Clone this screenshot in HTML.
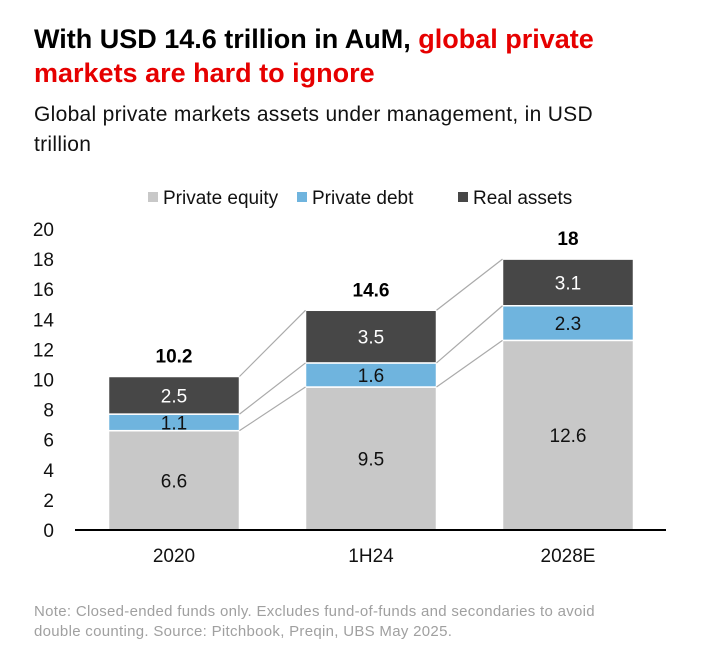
<!DOCTYPE html>
<html><head><meta charset="utf-8"><style>
body{margin:0;width:706px;height:660px;background:#fff;font-family:"Liberation Sans",sans-serif;overflow:hidden}
.t{position:absolute;left:34px;top:22px;width:650px;font-size:27px;font-weight:bold;line-height:34px;color:#000}
.t span{color:#e60000}
.s{position:absolute;left:34px;top:100px;width:600px;font-size:21px;line-height:30px;color:#111;letter-spacing:0.3px}
.n{position:absolute;left:34px;top:602px;width:600px;font-size:15px;line-height:20px;color:#a0a0a0;letter-spacing:0.3px}
svg{position:absolute;left:0;top:0}
</style></head><body>
<div class="t">With USD 14.6 trillion in AuM, <span>global private markets are hard to ignore</span></div>
<div class="s">Global private markets assets under management, in USD trillion</div>
<div class="n">Note: Closed-ended funds only. Excludes fund-of-funds and secondaries to avoid double counting. Source: Pitchbook, Preqin, UBS May 2025.</div>
<svg id="c" width="706" height="660"></svg>
<script>
const categories=["2020","1H24","2028E"];
const privateEquity=[6.6,9.5,12.6];
const privateDebt=[1.1,1.6,2.3];
const realAssets=[2.5,3.5,3.1];
const totals=["10.2","14.6","18"];
const yTicks=[0,2,4,6,8,10,12,14,16,18,20];
const seriesNames=["Private equity","Private debt","Real assets"];
const colors=["#c8c8c8","#6fb4de","#474747"];
const textColors=["#111","#111","#fff"];
const NS="http://www.w3.org/2000/svg";
const svg=document.getElementById('c');
const y=v=>530-v*15.05;
const bw=131;
const x=i=>174+i*197-bw/2;
function mk(t,a,p){const e=document.createElementNS(NS,t);for(const k in a)e.setAttribute(k,a[k]);(p||svg).appendChild(e);return e;}
yTicks.forEach(v=>{const e=mk('text',{x:54,y:y(v)+7,'text-anchor':'end','font-size':19,fill:'#111'});e.textContent=v;

});
const series=[privateEquity,privateDebt,realAssets];
const tops=categories.map(()=>[]);
categories.forEach((c,i)=>{let b=0;series.forEach((s,k)=>{const v=s[i];
const r=mk('rect',{x:x(i),y:y(b+v),width:bw,height:y(b)-y(b+v),fill:colors[k],stroke:'#fff','stroke-width':1.5});


const t=mk('text',{x:x(i)+bw/2,y:y(b+v/2)+7,'text-anchor':'middle','font-size':19,fill:textColors[k]});t.textContent=v;


b+=v;tops[i].push(b);});
const tt=mk('text',{x:x(i)+bw/2,y:y(b)-14,'text-anchor':'middle','font-size':19,'font-weight':'bold',fill:'#000'});tt.textContent=totals[i];


const cl=mk('text',{x:x(i)+bw/2,y:562,'text-anchor':'middle','font-size':19,fill:'#111'});cl.textContent=c;


});
for(let i=0;i<categories.length-1;i++)tops[i].forEach((v,k)=>{const l=mk('line',{x1:x(i)+bw,y1:y(v),x2:x(i+1),y2:y(tops[i+1][k]),stroke:'#aaa','stroke-width':1.2});

});
const ax=mk('line',{x1:75,x2:666,y1:530,y2:530,stroke:'#000','stroke-width':2});


const lx=[148,297,458];
seriesNames.forEach((n,k)=>{const g=mk('g',{});


mk('rect',{x:lx[k],y:192,width:10,height:10,fill:colors[k]},g);
const t=mk('text',{x:lx[k]+15,y:204,'font-size':19,fill:'#111'},g);t.textContent=n;});
</script>
</body></html>
